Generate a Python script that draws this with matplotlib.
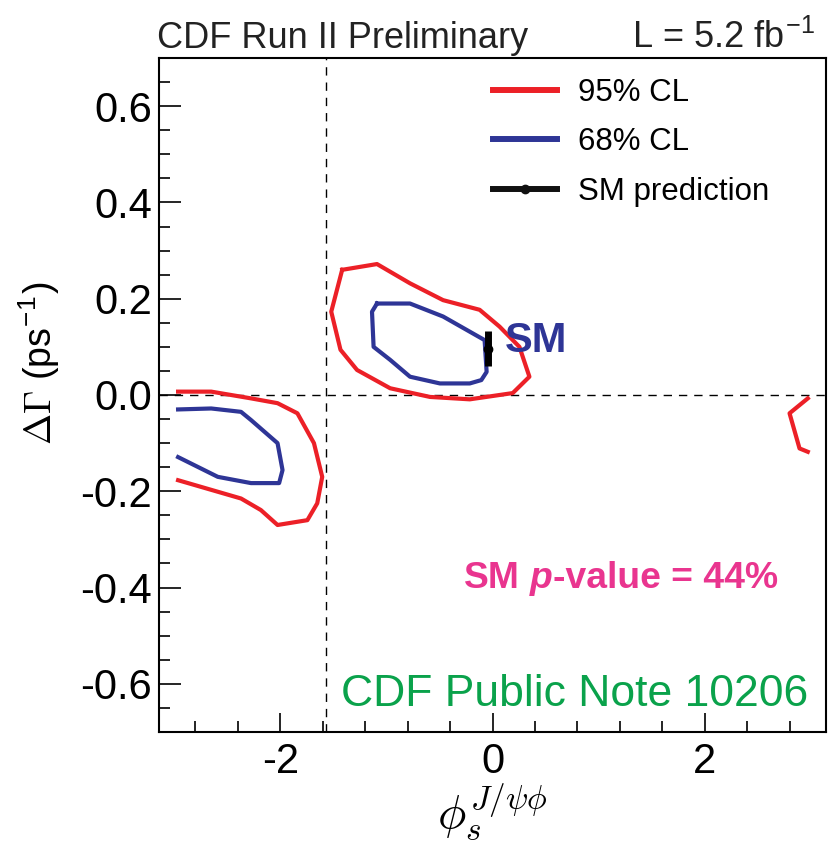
import matplotlib
matplotlib.use('Agg')
import matplotlib.pyplot as plt
from matplotlib.ticker import MultipleLocator, FormatStrFormatter
from matplotlib.lines import Line2D

plt.rcParams['font.family'] = ['Liberation Sans', 'DejaVu Sans']
plt.rcParams['mathtext.fontset'] = 'cm'
plt.rcParams['axes.unicode_minus'] = False

# ---- data ----
# 95% CL, central island (closed)
c95_mid_x = [-1.417, -1.089, -0.778, -0.466, -0.122, 0.066, 0.253, 0.347, 0.190,
             -0.215, -0.590, -0.965, -1.277, -1.433, -1.520, -1.417]
c95_mid_y = [0.260, 0.272, 0.232, 0.197, 0.177, 0.142, 0.100, 0.038, 0.004,
             -0.009, -0.004, 0.014, 0.052, 0.094, 0.173, 0.260]
# 68% CL, central island (closed)
c68_mid_x = [-1.089, -0.778, -0.466, -0.075, -0.056, -0.106, -0.215, -0.496,
             -0.778, -0.965, -1.121, -1.136, -1.089]
c68_mid_y = [0.190, 0.190, 0.163, 0.114, 0.048, 0.031, 0.024, 0.024,
             0.038, 0.073, 0.100, 0.173, 0.190]
# 95% CL, left island (open at the left edge)
c95_left_x = [-2.963, -2.651, -2.276, -2.026, -1.839, -1.683, -1.605, -1.652,
              -1.745, -2.026, -2.183, -2.370, -2.651, -2.963]
c95_left_y = [0.007, 0.007, -0.007, -0.017, -0.038, -0.100, -0.170, -0.225,
              -0.260, -0.270, -0.239, -0.215, -0.197, -0.177]
# 68% CL, left island
c68_left_x = [-2.963, -2.651, -2.370, -2.276, -2.026, -1.979, -2.011, -2.276,
              -2.589, -2.963]
c68_left_y = [-0.030, -0.028, -0.035, -0.052, -0.100, -0.156, -0.183, -0.183,
              -0.170, -0.129]
# 95% CL, right sliver
c95_right_x = [2.970, 2.798, 2.892, 2.970]
c95_right_y = [-0.007, -0.038, -0.111, -0.118]

sm_x = -0.04
sm_y = 0.096
sm_err = 0.036

x_ticks = [-2, 0, 2]
y_ticks = [-0.6, -0.4, -0.2, 0.0, 0.2, 0.4, 0.6]

RED = '#ec2027'
BLUE = '#2e3596'
PINK = '#e9358f'
GREEN = '#0aa24b'

fig = plt.figure(figsize=(8.31, 8.48), dpi=100)
ax = fig.add_axes([0.1915, 0.1368, 0.8025, 0.7948])

lw = 3.0
ax.plot(c95_mid_x, c95_mid_y, color=RED, lw=lw, solid_joinstyle='round')
ax.plot(c95_left_x, c95_left_y, color=RED, lw=lw, solid_joinstyle='round')
ax.plot(c95_right_x, c95_right_y, color=RED, lw=lw, solid_joinstyle='round')
ax.plot(c68_mid_x, c68_mid_y, color=BLUE, lw=lw, solid_joinstyle='round')
ax.plot(c68_left_x, c68_left_y, color=BLUE, lw=lw, solid_joinstyle='round')

ax.axvline(-1.5708, color='k', lw=1.0, ls=(0, (6, 5)), zorder=1)
ax.axhline(0.0, color='k', lw=1.0, ls=(0, (6, 5)), zorder=1)

ax.errorbar([sm_x], [sm_y], yerr=[sm_err], fmt='o', color='k', ms=6,
            elinewidth=5, capsize=0, zorder=5)

ax.text(0.12, 0.113, 'SM', color=BLUE, fontsize=30, fontweight='bold',
        ha='left', va='center')

# "SM p-value = 44%" with an italic p
t1 = ax.text(-0.27, -0.400, 'SM', color=PINK, fontsize=26.8, fontweight='bold',
             ha='left', va='baseline')
t2 = ax.annotate('p', xy=(1, 0), xycoords=t1, xytext=(7.2, 0),
                 textcoords='offset points', color=PINK, fontsize=26.8,
                 fontweight='bold', fontstyle='italic', ha='left', va='bottom')
t3 = ax.annotate('-value = 44%', xy=(1, 0), xycoords=t2, xytext=(0.5, 0),
                 textcoords='offset points', color=PINK, fontsize=26.8,
                 fontweight='bold', ha='left', va='bottom')

ax.text(2.97, -0.647, 'CDF Public Note 10206', color=GREEN, fontsize=32,
        ha='right', va='baseline')

handles = [Line2D([], [], color=RED, lw=4.3),
           Line2D([], [], color=BLUE, lw=4.3),
           Line2D([], [], color='#111111', lw=4.3, marker='o', ms=6)]
ax.legend(handles, ['95% CL', '68% CL', 'SM prediction'], loc='upper left',
          bbox_to_anchor=(0.5, 0.971), frameon=False, fontsize=22.5,
          handlelength=2.07, handletextpad=0.67, labelspacing=0.63,
          borderpad=0, borderaxespad=0)

ax.set_xlim(-3.1416, 3.1416)
ax.set_ylim(-0.7, 0.7)
ax.set_xticks(x_ticks)
ax.set_yticks(y_ticks)
ax.xaxis.set_minor_locator(MultipleLocator(0.4))
ax.yaxis.set_minor_locator(MultipleLocator(0.05))
ax.yaxis.set_major_formatter(FormatStrFormatter('%.1f'))
ax.tick_params(which='both', direction='in', top=False, right=False,
               labelsize=30, width=1.2)
ax.tick_params(axis='y', which='major', length=16, pad=5)
ax.tick_params(axis='x', which='major', length=14, pad=7)
ax.tick_params(which='minor', length=8)
for s in ax.spines.values():
    s.set_linewidth(1.5)

ax.set_xlabel(r'$\phi_s^{J/\psi\phi}$', fontsize=34)
ax.xaxis.set_label_coords(0.5, -0.076)
ax.set_ylabel(r'$\Delta\Gamma$ (ps$^{\mathregular{-1}}$)', fontsize=27)
ax.yaxis.set_label_coords(-0.145, 0.547)

ax.text(-0.003, 1.015, 'CDF Run II Preliminary', transform=ax.transAxes,
        fontsize=26, ha='left', va='baseline', color='#222222')
ax.text(0.983, 1.015, 'L = 5.2 fb$^{\\mathregular{-1}}$', transform=ax.transAxes,
        fontsize=26, ha='right', va='baseline', color='#222222')

fig.savefig('out.png', dpi=100)
